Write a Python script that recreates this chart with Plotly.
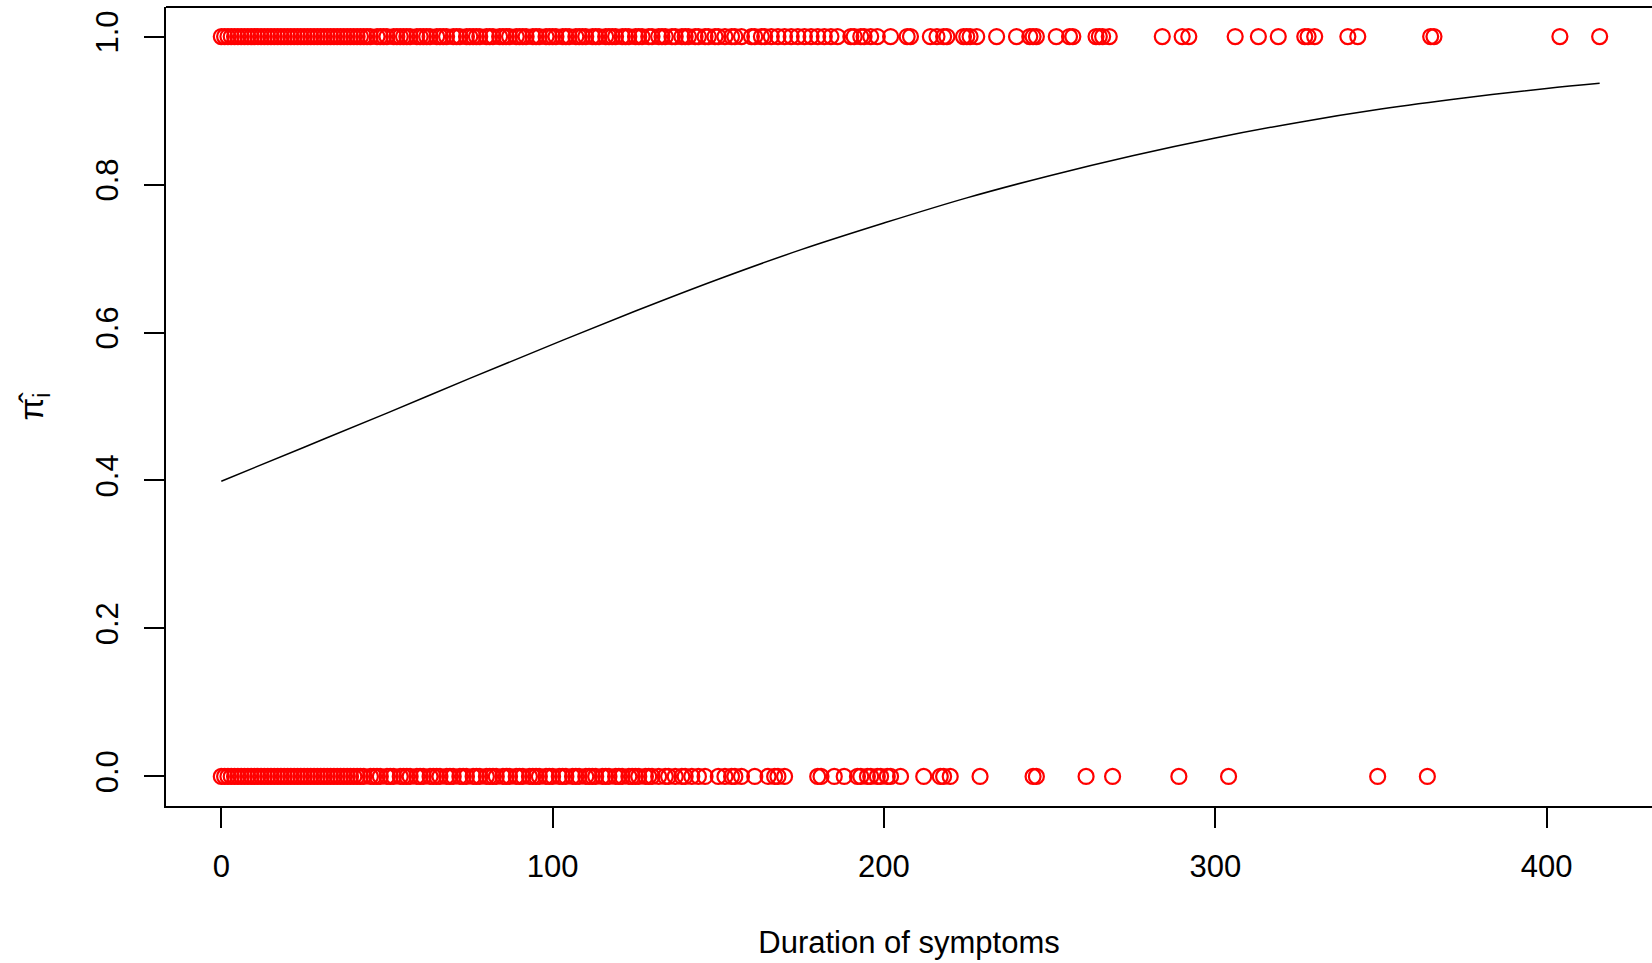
import plotly.graph_objects as go

# Duration of symptoms for observations with outcome 1
dur_yes = [0, 1, 2, 3, 4, 5, 6, 7, 8, 9, 10, 11, 12, 13, 14, 15, 16, 17, 18, 19, 20,
           21, 22, 23, 24, 25, 26, 27, 28, 29, 30, 31, 32, 33, 34, 35, 36, 37, 38, 39, 40,
           41, 42, 43, 44, 45, 47, 48, 49, 50, 52, 53, 54, 55, 56, 57, 59, 60, 61, 62, 63,
           65, 66, 67, 68, 70, 71, 72, 74, 75, 76, 77, 78, 80, 81, 82, 84, 85, 86, 87, 89,
           90, 91, 92, 94, 95, 96, 98, 99, 100, 101, 103, 104, 105, 107, 108, 109, 110, 112,
           113, 114, 116, 117, 118, 119, 121, 122, 123, 125, 126, 127, 129, 130, 132, 133,
           134, 136, 137, 139, 140, 141, 143, 144, 146, 147, 149, 150, 152, 154, 155, 157,
           160, 161, 163, 164, 166, 168, 170, 172, 174, 176, 178, 180, 182, 184, 186, 190,
           191, 193, 194, 196, 198, 202, 207, 208, 214, 216, 218, 219, 224, 225, 226, 228,
           234, 240, 244, 245, 246, 252, 256, 257, 264, 265, 266, 268, 284, 290, 292, 306,
           313, 319, 327, 328, 330, 340, 343, 365, 366, 404, 416]

# Duration of symptoms for observations with outcome 0
dur_no = [0, 1, 2, 3, 4, 5, 6, 7, 8, 9, 10, 11, 12, 13, 14, 15, 16, 17, 18, 19, 20,
          21, 22, 23, 24, 25, 26, 27, 28, 29, 30, 31, 32, 33, 34, 35, 36, 37, 38, 39, 40,
          41, 42, 43, 45, 46, 47, 48, 50, 51, 52, 54, 55, 56, 57, 59, 60, 61, 63, 64, 65,
          66, 68, 69, 70, 72, 73, 74, 76, 77, 78, 80, 81, 82, 83, 85, 86, 87, 89, 90, 91,
          93, 94, 95, 96, 98, 99, 100, 102, 103, 104, 106, 107, 108, 110, 111, 112, 113,
          115, 116, 117, 119, 120, 121, 123, 124, 125, 126, 128, 129, 130, 132, 134, 135,
          137, 139, 140, 142, 144, 146, 150, 152, 154, 155, 157, 161, 165, 167, 168, 170,
          180, 181, 185, 188, 192, 193, 195, 196, 198, 199, 201, 202, 205, 212, 217, 218,
          220, 229, 245, 246, 261, 269, 289, 304, 349, 364]

outcome_yes = [1.0] * len(dur_yes)
outcome_no = [0.0] * len(dur_no)

# Fitted probability curve
fit_x = [0, 25, 50, 75, 100, 125, 150, 175, 200, 225, 250, 275, 300, 325, 350, 375, 400, 416]
fit_p = [0.399, 0.445, 0.491, 0.538, 0.584, 0.629, 0.672, 0.712, 0.748, 0.782, 0.812,
         0.839, 0.863, 0.884, 0.902, 0.917, 0.930, 0.937]

x_ticks = [0, 100, 200, 300, 400]
y_ticks = [0.0, 0.2, 0.4, 0.6, 0.8, 1.0]
y_tick_text = ["0.0", "0.2", "0.4", "0.6", "0.8", "1.0"]

FONT = "Liberation Sans, Arial, Helvetica, sans-serif"
RED = "#ff0000"

fig = go.Figure()
marker = dict(symbol="circle-open", size=15, color=RED, line=dict(width=2.2, color=RED))
fig.add_trace(go.Scatter(x=dur_yes, y=outcome_yes, mode="markers", marker=marker,
                         showlegend=False))
fig.add_trace(go.Scatter(x=dur_no, y=outcome_no, mode="markers", marker=marker,
                         showlegend=False))
fig.add_trace(go.Scatter(x=fit_x, y=fit_p, mode="lines", line=dict(color="black", width=1.5),
                         line_shape="spline", showlegend=False))

fig.update_layout(
    width=1652, height=963,
    margin=dict(l=166, r=0, t=7, b=157),
    paper_bgcolor="white", plot_bgcolor="white",
    font=dict(family=FONT, size=31, color="black"),
    xaxis=dict(
        range=[-16.69, 431.8], tickvals=x_ticks, ticks="outside", ticklen=20, tickwidth=1.5,
        tickcolor="black", showline=True, linecolor="black", linewidth=2, showgrid=False,
        zeroline=False, ticklabelstandoff=12,
        title=dict(text="Duration of symptoms", font=dict(size=31), standoff=48),
    ),
    yaxis=dict(
        range=[-0.04, 1.04], tickvals=y_ticks, ticktext=y_tick_text, tickangle=-90,
        ticks="outside", ticklen=20, tickwidth=1.5, tickcolor="black", showline=True,
        linecolor="black", linewidth=2, showgrid=False, zeroline=False, ticklabelstandoff=14,
        title=dict(text="π̂<sub>i</sub>", font=dict(size=33), standoff=36),
    ),
    shapes=[dict(type="line", xref="paper", yref="paper", x0=0, x1=1, y0=1, y1=1,
                 line=dict(color="black", width=2))],
)

fig.write_html("out.html")
